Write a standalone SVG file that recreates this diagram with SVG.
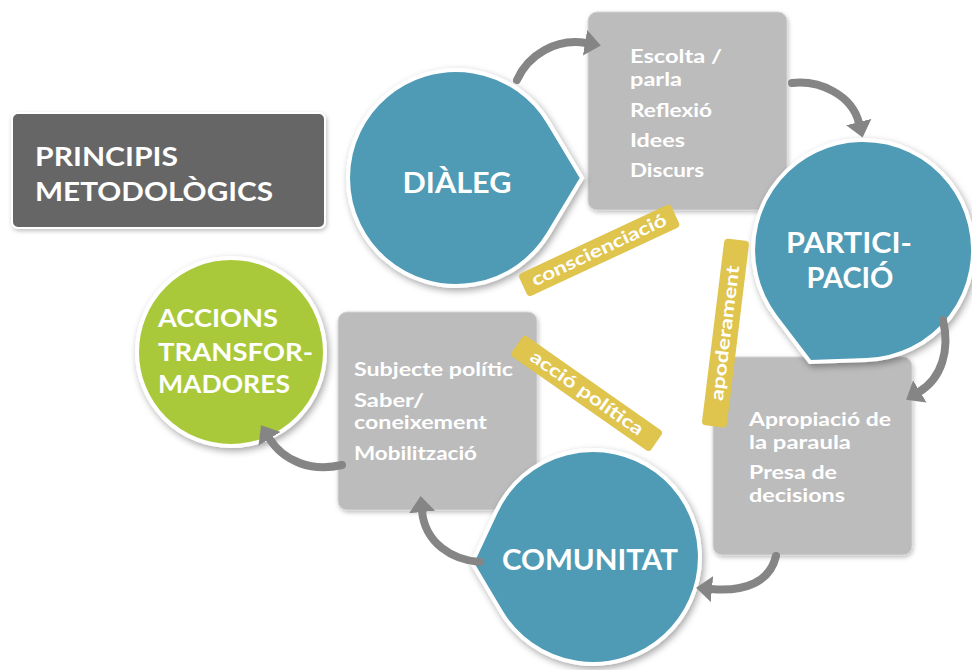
<svg xmlns="http://www.w3.org/2000/svg" width="972" height="670" viewBox="0 0 972 670">
<defs>
<filter id="sh" x="-20%" y="-20%" width="140%" height="140%">
<feDropShadow dx="2" dy="3" stdDeviation="3.5" flood-color="#000" flood-opacity="0.35"/>
</filter>
<filter id="shs" x="-20%" y="-20%" width="140%" height="140%">
<feDropShadow dx="1" dy="2" stdDeviation="2" flood-color="#000" flood-opacity="0.25"/>
</filter>
<marker id="ah" markerUnits="userSpaceOnUse" markerWidth="16" markerHeight="26" viewBox="0 0 16 26" refX="1" refY="13" orient="auto">
<path d="M0,0 L16,13 L0,26 Z" fill="#858585"/>
</marker>
<style>
.blue{fill:#4f9ab4;stroke:#fff;stroke-width:4;filter:url(#sh)}
.green{fill:#a9c93b;stroke:#fff;stroke-width:4;filter:url(#sh)}
.box{fill:#bcbcbc;stroke:#d4d4d4;stroke-width:1;filter:url(#shs)}
.band{fill:#dfc44e}
.t{font-family:Lato,"Open Sans","DejaVu Sans",sans-serif;font-weight:700;fill:#fff}
.big{font-size:28px}
.mid{font-size:25px}
.sm{font-size:19px}
.lab{font-size:18px;text-anchor:middle}
.c{text-anchor:middle}
.arr{fill:none;stroke:#858585;stroke-width:8;stroke-linecap:round;marker-end:url(#ah)}
</style>
</defs>
<rect width="972" height="670" fill="#fff"/>

<g id="title">
<rect x="12" y="113" width="313" height="115" rx="6" fill="#666666" stroke="#fff" stroke-width="2" filter="url(#shs)"/>
<text class="t" x="35" y="166" font-size="27" textLength="143" lengthAdjust="spacingAndGlyphs">PRINCIPIS</text>
<text class="t" x="35" y="201" font-size="27" textLength="238" lengthAdjust="spacingAndGlyphs">METODOLÒGICS</text>
</g>

<g id="box-dialeg">
<rect class="box" x="588" y="12" width="199" height="198" rx="9"/>
<text class="t sm" x="630" y="63" textLength="92" lengthAdjust="spacingAndGlyphs">Escolta /</text>
<text class="t sm" x="630" y="86" textLength="52" lengthAdjust="spacingAndGlyphs">parla</text>
<text class="t sm" x="630" y="117" textLength="82" lengthAdjust="spacingAndGlyphs">Reflexió</text>
<text class="t sm" x="630" y="147" textLength="55" lengthAdjust="spacingAndGlyphs">Idees</text>
<text class="t sm" x="630" y="177" textLength="74" lengthAdjust="spacingAndGlyphs">Discurs</text>
</g>

<g id="box-participacio">
<rect class="box" x="713" y="357" width="199" height="198" rx="9"/>
<text class="t sm" x="749" y="426" textLength="142" lengthAdjust="spacingAndGlyphs">Apropiació de</text>
<text class="t sm" x="749" y="449" textLength="102" lengthAdjust="spacingAndGlyphs">la paraula</text>
<text class="t sm" x="749" y="479" textLength="88" lengthAdjust="spacingAndGlyphs">Presa de</text>
<text class="t sm" x="749" y="502" textLength="96" lengthAdjust="spacingAndGlyphs">decisions</text>
</g>

<g id="box-comunitat">
<rect class="box" x="338" y="312" width="199" height="198" rx="9"/>
<text class="t sm" x="354" y="376" textLength="159" lengthAdjust="spacingAndGlyphs">Subjecte polític</text>
<text class="t sm" x="354" y="407" textLength="70" lengthAdjust="spacingAndGlyphs">Saber/</text>
<text class="t sm" x="354" y="429" textLength="133" lengthAdjust="spacingAndGlyphs">coneixement</text>
<text class="t sm" x="354" y="460" textLength="123" lengthAdjust="spacingAndGlyphs">Mobilització</text>
</g>

<g id="accions">
<circle class="green" cx="231" cy="352" r="94"/>
<text class="t mid" x="158" y="327" textLength="120" lengthAdjust="spacingAndGlyphs">ACCIONS</text>
<text class="t mid" x="158" y="361" textLength="155" lengthAdjust="spacingAndGlyphs">TRANSFOR-</text>
<text class="t mid" x="158" y="393" textLength="132" lengthAdjust="spacingAndGlyphs">MADORES</text>
</g>

<g id="dialeg">
<path class="blue" d="M582,178 L548.6,233.6 A108,108 0 1 1 548.6,122.4 Z"/>
<text class="t big c" x="457" y="193" textLength="109" lengthAdjust="spacingAndGlyphs">DIÀLEG</text>
</g>

<g id="participacio">
<path class="blue" d="M810,362 L775.5,316.6 A110,110 0 1 1 867,360 Z"/>
<text class="t big c" x="849" y="253" textLength="126" lengthAdjust="spacingAndGlyphs">PARTICI-</text>
<text class="t big c" x="850" y="288" textLength="87" lengthAdjust="spacingAndGlyphs">PACIÓ</text>
</g>

<g id="comunitat">
<path class="blue" d="M472,563 L496,511.6 A107,107 0 1 1 501,611.7 Z"/>
<text class="t big c" x="590" y="570" textLength="176" lengthAdjust="spacingAndGlyphs">COMUNITAT</text>
</g>

<g id="label-consciencia" transform="translate(599,250) rotate(-25)">
<rect class="band" x="-84" y="-12" width="168" height="25" rx="4"/>
<text class="t lab" x="0" y="6" textLength="147" lengthAdjust="spacingAndGlyphs">conscienciació</text>
</g>
<g id="label-apoderament" transform="translate(725,333) rotate(-83)">
<rect class="band" x="-94" y="-12" width="188" height="25" rx="4"/>
<text class="t lab" x="0" y="6" textLength="136" lengthAdjust="spacingAndGlyphs">apoderament</text>
</g>
<g id="label-accio" transform="translate(587,393) rotate(35)">
<rect class="band" x="-85" y="-12" width="170" height="25" rx="4"/>
<text class="t lab" x="0" y="6" textLength="134" lengthAdjust="spacingAndGlyphs">acció política</text>
</g>

<g id="connectors">
<path class="arr" d="M517,80 C528,55 556,38 586,43"/>
<path class="arr" d="M792,83 C820,80 852,95 859,123"/>
<path class="arr" d="M943,320 C950,350 942,378 919,392"/>
<path class="arr" d="M776,556 C770,582 745,592 711,589"/>
<path class="arr" d="M480,562 C452,560 425,543 422,511"/>
<path class="arr" d="M342,465 C312,472 284,462 269,438"/>
</g>
</svg>
